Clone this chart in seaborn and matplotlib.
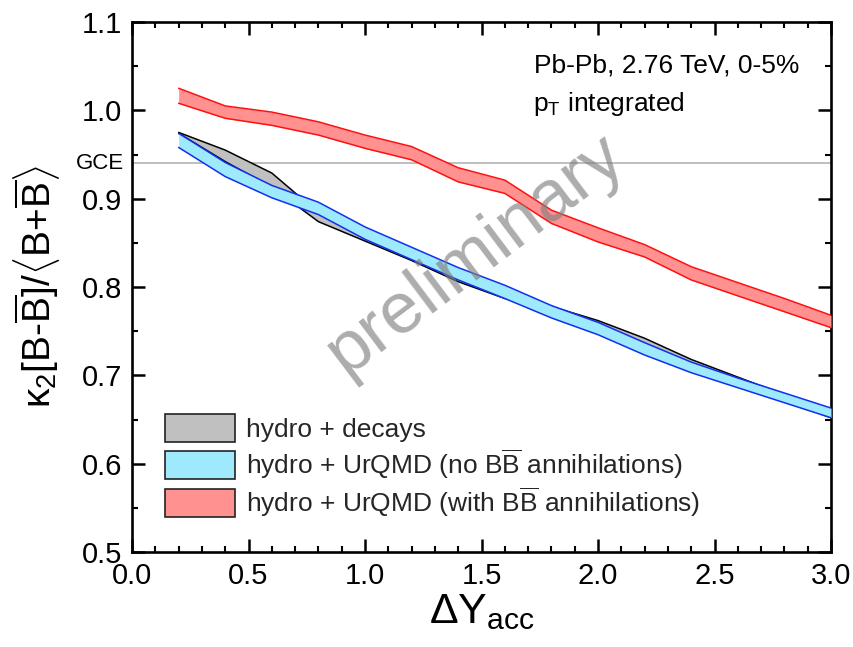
import matplotlib
matplotlib.use("Agg")
import numpy as np
import pandas as pd
import matplotlib.pyplot as plt
import seaborn as sns
from matplotlib.patches import Patch
from matplotlib.ticker import MultipleLocator, FormatStrFormatter

# ---------------- data ----------------
dy_acc = [0.2, 0.4, 0.6, 0.8, 1.0, 1.2, 1.4, 1.6, 1.8, 2.0, 2.2, 2.4, 2.6, 2.8, 3.0]

decays_hi = [0.975, 0.955, 0.929, 0.884, 0.858, 0.836, 0.812, 0.793, 0.778, 0.762, 0.742, 0.718, 0.698, 0.678, 0.658]
decays_lo = [0.974, 0.942, 0.913, 0.874, 0.852, 0.830, 0.806, 0.787, 0.772, 0.756, 0.736, 0.712, 0.692, 0.671, 0.652]

noann_hi = [0.974, 0.941, 0.915, 0.896, 0.868, 0.845, 0.822, 0.802, 0.779, 0.760, 0.737, 0.715, 0.697, 0.680, 0.663]
noann_lo = [0.958, 0.925, 0.901, 0.882, 0.854, 0.831, 0.808, 0.787, 0.765, 0.746, 0.723, 0.703, 0.686, 0.669, 0.652]

ann_hi = [1.025, 1.005, 0.998, 0.987, 0.972, 0.959, 0.935, 0.921, 0.887, 0.867, 0.848, 0.823, 0.805, 0.787, 0.768]
ann_lo = [1.008, 0.991, 0.983, 0.972, 0.957, 0.944, 0.919, 0.906, 0.872, 0.851, 0.834, 0.808, 0.790, 0.772, 0.754]

gce_value = 0.94

series_labels = [
    "hydro + decays",
    r"hydro + UrQMD (no B$\overline{\mathrm{B}}$ annihilations)",
    r"hydro + UrQMD (with B$\overline{\mathrm{B}}$ annihilations)",
]
x_ticks = [0.0, 0.5, 1.0, 1.5, 2.0, 2.5, 3.0]
y_ticks = [0.5, 0.6, 0.7, 0.8, 0.9, 1.0, 1.1]

# ---------------- style ----------------
sns.set_theme(style="ticks")
plt.rcParams["font.family"] = ["Liberation Sans", "DejaVu Sans"]
plt.rcParams["mathtext.fontset"] = "custom"
plt.rcParams["mathtext.rm"] = "Liberation Sans"
plt.rcParams["mathtext.it"] = "Liberation Sans:italic"
plt.rcParams["mathtext.bf"] = "Liberation Sans:bold"
plt.rcParams["mathtext.sf"] = "Liberation Sans"

fill_colors = ["#c0c0c0", "#9ee9fc", "#ff9191"]
edge_colors = ["#000000", "#1030f0", "#ff1010"]

df = pd.DataFrame({
    "dy": dy_acc * 3,
    "hi": decays_hi + noann_hi + ann_hi,
    "lo": decays_lo + noann_lo + ann_lo,
    "series": [series_labels[0]] * len(dy_acc) + [series_labels[1]] * len(dy_acc) + [series_labels[2]] * len(dy_acc),
})

fig = plt.figure(figsize=(8.54, 6.47), dpi=100)
ax = fig.add_axes([0.1546, 0.1468, 0.8185, 0.8192])

# GCE reference line
ax.axhline(gce_value, color="#b4b4b4", lw=1.2, zorder=1)

for i, lab in enumerate(series_labels):
    sub = df[df["series"] == lab]
    ax.fill_between(sub["dy"], sub["lo"], sub["hi"], color=fill_colors[i], lw=0, zorder=2 + i)
    sns.lineplot(x=sub["dy"], y=sub["hi"], ax=ax, color=edge_colors[i], lw=1.1,
                 estimator=None, sort=False, legend=False, zorder=2.5 + i)
    sns.lineplot(x=sub["dy"], y=sub["lo"], ax=ax, color=edge_colors[i], lw=1.1,
                 estimator=None, sort=False, legend=False, zorder=2.5 + i)

ax.set_xlim(0.0, 3.0)
ax.set_ylim(0.5, 1.1)
ax.set_xticks(x_ticks)
ax.set_yticks(y_ticks)
ax.xaxis.set_minor_locator(MultipleLocator(0.1))
ax.yaxis.set_minor_locator(MultipleLocator(0.05))
ax.xaxis.set_major_formatter(FormatStrFormatter("%.1f"))
ax.yaxis.set_major_formatter(FormatStrFormatter("%.1f"))

for s in ax.spines.values():
    s.set_visible(True)
    s.set_linewidth(1.9)
    s.set_color("black")
ax.tick_params(which="both", direction="in", top=True, right=True, colors="black")
ax.tick_params(which="major", length=9.5, width=1.8, labelsize=21, pad=7)
ax.tick_params(which="minor", length=4.5, width=1.5)
ax.set_facecolor("white")

# axis labels
ax.set_xlabel(r"$\Delta\mathrm{Y}_{\mathrm{acc}}$", fontsize=31, color="black", va="top")
ax.xaxis.set_label_coords(0.5, -0.075)
ax.set_ylabel(r"κ$_2$[B-$\overline{\mathrm{B}}$]/$\langle$B+$\overline{\mathrm{B}}\rangle$",
              fontsize=28, color="black", va="center")
ax.yaxis.set_label_coords(-0.137, 0.50)

# GCE label
ax.text(-0.011, gce_value, "GCE", transform=ax.get_yaxis_transform(),
        ha="right", va="center", fontsize=16, color="black")

# annotations
ax.text(0.955, 0.917, "Pb-Pb, 2.76 TeV, 0-5%", transform=ax.transAxes,
        ha="right", va="center", fontsize=19, color="black")
ax.text(0.573, 0.845, r"p$_\mathrm{T}$ integrated", transform=ax.transAxes,
        ha="left", va="center", fontsize=19, color="black")

# watermark
ax.text(0.491, 0.56, "preliminary", transform=ax.transAxes, rotation=37,
        ha="center", va="center", fontsize=52, color="#808080", alpha=0.65, zorder=10)

# legend
handles = [Patch(facecolor=fill_colors[i], edgecolor="#222222", lw=1.2) for i in range(3)]
ax.legend(handles, series_labels, loc="lower left", bbox_to_anchor=(0.047, 0.062),
          frameon=False, fontsize=19, handlelength=2.65, handleheight=1.25,
          labelspacing=0.19, handletextpad=0.42, borderpad=0, borderaxespad=0)

fig.savefig("out.png", dpi=100, facecolor="white")
